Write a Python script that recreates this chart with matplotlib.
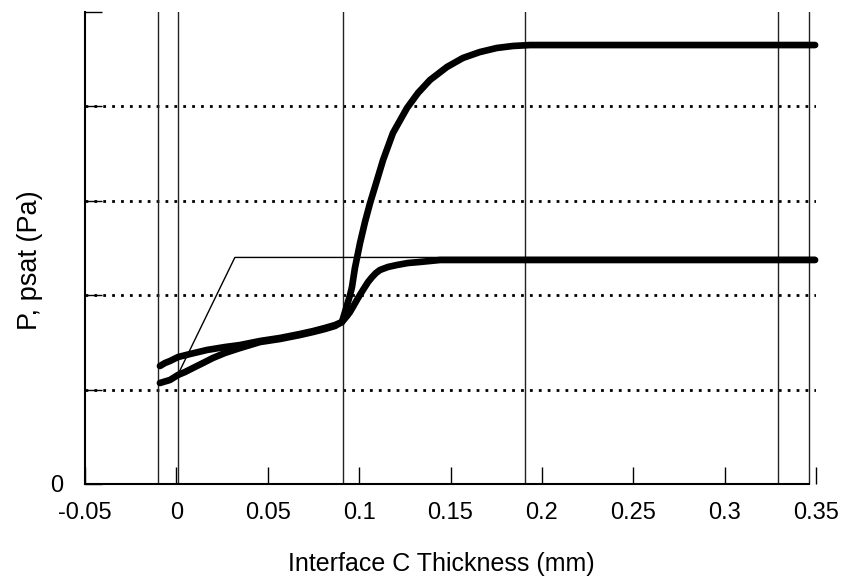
import numpy as np
from matplotlib import pyplot as plt

plt.rcParams['font.family'] = ['Liberation Sans', 'DejaVu Sans']

# thick upper curve (P)
p_x = [-0.009, -0.0062, -0.0035, 0.0009, 0.0075, 0.0168, 0.0266, 0.0348, 0.0458, 0.0567,
       0.0676, 0.0748, 0.0813, 0.0868, 0.0906, 0.0934, 0.095, 0.0961, 0.0977, 0.1005,
       0.1032, 0.106, 0.1098, 0.1131, 0.1185, 0.1262, 0.1322, 0.1388, 0.1481, 0.1568,
       0.1661, 0.1754, 0.1842, 0.1935, 0.25, 0.3495]
p_y = [1.25, 1.282, 1.303, 1.345, 1.377, 1.42, 1.451, 1.472, 1.515, 1.547,
       1.589, 1.62, 1.653, 1.684, 1.716, 1.896, 2.0, 2.087, 2.288, 2.553,
       2.775, 2.977, 3.22, 3.432, 3.718, 3.983, 4.142, 4.28, 4.418, 4.513,
       4.576, 4.619, 4.64, 4.65, 4.65, 4.65]

# thick lower curve (psat)
s_x = [-0.009, -0.0035, 0.0009, 0.0047, 0.0091, 0.0146, 0.02, 0.0266, 0.0348, 0.0458,
       0.0567, 0.0676, 0.0748, 0.0813, 0.0868, 0.0906, 0.0934, 0.095, 0.0966, 0.0994,
       0.1021, 0.1049, 0.107, 0.1092, 0.1114, 0.1158, 0.1207, 0.1267, 0.1333, 0.1443,
       0.25, 0.3495]
s_y = [1.07, 1.102, 1.155, 1.186, 1.229, 1.282, 1.335, 1.388, 1.44, 1.504,
       1.536, 1.578, 1.61, 1.642, 1.674, 1.716, 1.78, 1.822, 1.875, 1.97,
       2.055, 2.14, 2.19, 2.235, 2.267, 2.299, 2.32, 2.341, 2.352, 2.373,
       2.373, 2.373]

# thin line
t_x = [0.001, 0.032, 0.3495]
t_y = [1.165, 2.40, 2.40]

vlines = [-0.010, 0.0009, 0.091, 0.191, 0.329, 0.346]
grid_y = [1, 2, 3, 4]
xticks = [-0.05, 0, 0.05, 0.1, 0.15, 0.2, 0.25, 0.3, 0.35]
xlabels = ["-0.05", "0", "0.05", "0.1", "0.15", "0.2", "0.25", "0.3", "0.35"]

fig = plt.figure(figsize=(8.41, 5.86), dpi=100)
ax = fig.add_axes([85 / 841, 1 - 484 / 586, 731 / 841, 472 / 586])

for y in grid_y:
    ax.axhline(y, color='black', lw=2, linestyle=(0, (1, 2.2)), zorder=1)
for x in vlines:
    ax.axvline(x, color='#222222', lw=1, zorder=1)

ax.plot(t_x, t_y, color='black', lw=1, zorder=2)
ax.plot(s_x, s_y, color='black', lw=4.8, solid_capstyle='round',
        solid_joinstyle='round', zorder=3, clip_on=False)
ax.plot(p_x, p_y, color='black', lw=4.8, solid_capstyle='round',
        solid_joinstyle='round', zorder=3, clip_on=False)

ax.set_xlim(-0.05, 0.35)
ax.set_ylim(0, 5)
ax.set_xticks(xticks)
ax.set_xticklabels(xlabels, fontsize=17)
ax.set_yticks([0, 1, 2, 3, 4, 5])
ax.set_yticklabels(["0", "", "", "", "", ""], fontsize=17)
ax.tick_params(axis='both', direction='in', length=12, width=1)
ax.tick_params(axis='x', pad=13)
ax.tick_params(axis='y', pad=16)

ax.spines['top'].set_visible(False)
ax.spines['right'].set_visible(False)
ax.spines['left'].set_linewidth(1.5)
ax.spines['bottom'].set_linewidth(1.5)
ax.spines['bottom'].set_bounds(-0.05, 0.346)

ax.set_xlabel("Interface C Thickness (mm)", fontsize=18)
ax.xaxis.set_label_coords(0.488, -0.145)
ax.set_ylabel("P, psat (Pa)", fontsize=19.5)
ax.yaxis.set_label_coords(-0.058, 0.475)

plt.savefig("out.png", dpi=100)
